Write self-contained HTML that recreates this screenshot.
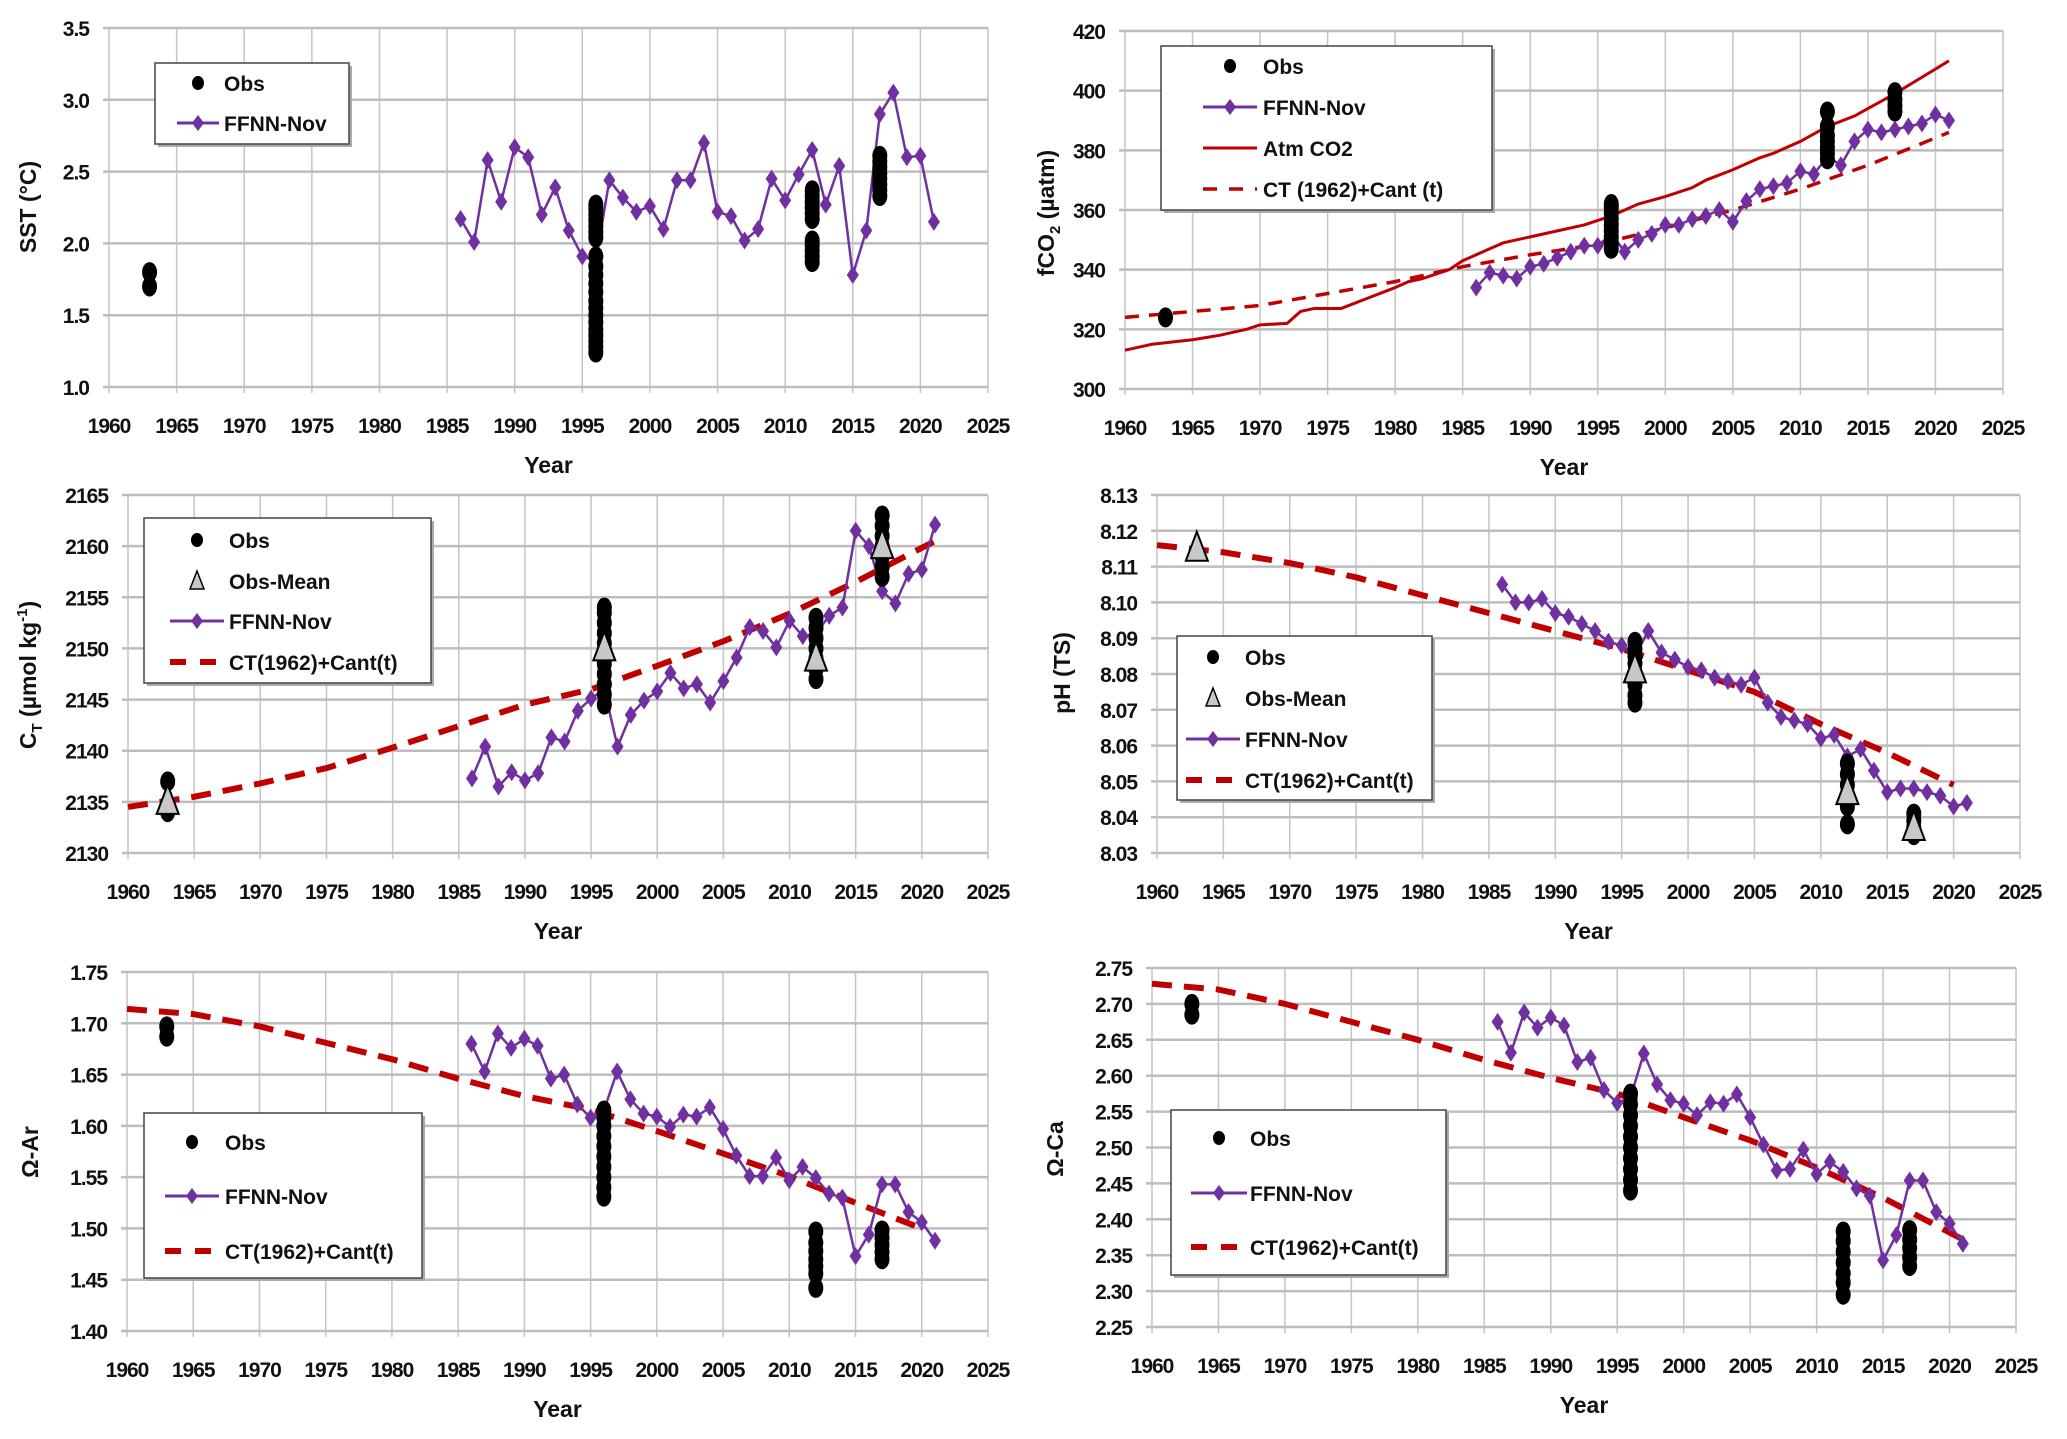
<!DOCTYPE html>
<html><head><meta charset="utf-8"><title>Ocean carbon panels</title>
<style>
body{margin:0;background:#fff;}
svg{display:block;font-family:"Liberation Sans",sans-serif;}
.tick{font-size:21px;font-weight:bold;fill:#111;letter-spacing:-1px;}
.atitle{font-size:23px;font-weight:bold;fill:#111;}
.leg{font-size:21px;font-weight:bold;fill:#111;}
</style></head>
<body>
<svg id="fig" width="2067" height="1439" viewBox="0 0 2067 1439"></svg>
<script>
// ---------- DATA ----------
const ffnnYears = [1986,1987,1988,1989,1990,1991,1992,1993,1994,1995,1996,1997,1998,1999,2000,2001,2002,2003,2004,2005,2006,2007,2008,2009,2010,2011,2012,2013,2014,2015,2016,2017,2018,2019,2020,2021];
const xTicks = [1960,1965,1970,1975,1980,1985,1990,1995,2000,2005,2010,2015,2020,2025];

// SST
const sstFfnn = [2.17,2.01,2.58,2.29,2.67,2.60,2.20,2.39,2.09,1.91,1.88,2.44,2.32,2.22,2.26,2.10,2.44,2.44,2.70,2.22,2.19,2.02,2.10,2.45,2.30,2.48,2.65,2.27,2.54,1.78,2.09,2.90,3.05,2.60,2.61,2.15];
const sstObsYears = [1963,1963,1996,1996,1996,1996,1996,1996,1996,1996,1996,1996,1996,1996,1996,1996,1996,1996,1996,1996,1996,1996,1996,2012,2012,2012,2012,2012,2012,2012,2012,2012,2012,2012,2017,2017,2017,2017,2017,2017,2017,2017];
const sstObsVals  = [1.70,1.80,1.24,1.28,1.32,1.36,1.40,1.45,1.50,1.55,1.60,1.66,1.72,1.78,1.84,1.91,2.04,2.08,2.12,2.16,2.20,2.24,2.27,1.87,1.91,1.95,1.99,2.02,2.17,2.21,2.25,2.29,2.33,2.37,2.33,2.37,2.41,2.45,2.49,2.53,2.57,2.61];
const sstTicks = [1.0,1.5,2.0,2.5,3.0,3.5];

// fCO2
const fco2Ffnn = [334,339,338,337,341,342,344,346,348,348,352,346,350,352,355,355,357,358,360,356,363,367,368,369,373,372,378,375,383,387,386,387,388,389,392,390];
const atmYears = [1960,1962,1965,1967,1969,1970,1972,1973,1974,1976,1978,1980,1981,1982,1984,1985,1987,1988,1990,1992,1994,1996,1998,2000,2002,2003,2005,2007,2008,2010,2012,2014,2015,2017,2019,2021];
const atmVals  = [313,315,316.5,318,320,321.5,322,326,327,327,330.5,334,336,337,340,343,347,349,351,353,355,358,362,364.5,367.5,370,373.5,377.5,379,383,388,391.5,394,399,404.5,410];
const fco2CtYears = [1960,1965,1970,1975,1980,1985,1990,1995,2000,2005,2010,2015,2021];
const fco2CtVals  = [324,326,328,332,336,341,345,348.5,354,360,367,375,386];
const fco2ObsYears = [1963,1996,1996,1996,1996,1996,1996,1996,1996,1996,2012,2012,2012,2012,2012,2012,2012,2017,2017,2017,2017];
const fco2ObsVals  = [324,347,349,351,353,355,357,359,361,362,377,379,381,383,385,388,393,393,395,397,399.5];
const fco2Ticks = [300,320,340,360,380,400,420];

// CT
const ctFfnn = [2137.3,2140.4,2136.5,2137.9,2137.1,2137.8,2141.3,2140.9,2143.9,2145.1,2146.0,2140.4,2143.5,2144.9,2145.8,2147.6,2146.1,2146.5,2144.7,2146.8,2149.1,2152.1,2151.7,2150.1,2152.7,2151.2,2151.5,2153.2,2154.0,2161.5,2160.0,2155.6,2154.4,2157.3,2157.7,2162.1];
const ctCtYears = [1960,1965,1970,1975,1980,1985,1990,1995,2000,2005,2010,2015,2021];
const ctCtVals  = [2134.5,2135.5,2136.8,2138.3,2140.3,2142.4,2144.5,2146.0,2148.3,2150.7,2153.4,2156.5,2160.5];
const ctObsYears = [1963,1963,1996,1996,1996,1996,1996,1996,1996,1996,1996,1996,1996,2012,2012,2012,2012,2012,2012,2012,2017,2017,2017,2017,2017,2017,2017];
const ctObsVals  = [2134,2137,2144.5,2145.5,2146.5,2147.5,2148.5,2149.5,2150.5,2151.5,2152.5,2153.5,2154,2147,2148,2149,2150,2151,2152,2153,2157,2158,2159,2160,2161,2162,2163];
const ctMeanYears = [1963,1996,2012,2017];
const ctMeanVals  = [2135,2150,2149,2160];
const ctTicks = [2130,2135,2140,2145,2150,2155,2160,2165];

// pH
const phFfnn = [8.105,8.100,8.100,8.101,8.097,8.096,8.094,8.092,8.089,8.088,8.085,8.092,8.086,8.084,8.082,8.081,8.079,8.078,8.077,8.079,8.072,8.068,8.067,8.066,8.062,8.063,8.057,8.059,8.053,8.047,8.048,8.048,8.047,8.046,8.043,8.044];
const phCtYears = [1960,1965,1970,1975,1980,1985,1990,1995,2000,2005,2010,2015,2020];
const phCtVals  = [8.116,8.114,8.111,8.107,8.102,8.097,8.092,8.087,8.081,8.075,8.066,8.058,8.049];
const phObsYears = [1996,1996,1996,1996,1996,1996,1996,1996,2012,2012,2012,2012,2012,2012,2017,2017,2017,2017];
const phObsVals  = [8.072,8.074,8.077,8.080,8.083,8.085,8.087,8.089,8.038,8.043,8.046,8.049,8.052,8.055,8.035,8.037,8.039,8.041];
const phMeanYears = [1963,1996,2012,2017];
const phMeanVals  = [8.115,8.081,8.047,8.037];
const phTicks = [8.03,8.04,8.05,8.06,8.07,8.08,8.09,8.10,8.11,8.12,8.13];

// Omega Ar
const arFfnn = [1.680,1.653,1.690,1.676,1.685,1.678,1.646,1.650,1.621,1.608,1.615,1.653,1.626,1.612,1.609,1.599,1.611,1.609,1.618,1.597,1.571,1.551,1.551,1.569,1.547,1.560,1.549,1.534,1.530,1.473,1.494,1.543,1.543,1.516,1.506,1.488];
const arCtYears = [1960,1965,1970,1975,1980,1985,1990,1995,2000,2005,2010,2015,2020];
const arCtVals  = [1.714,1.709,1.697,1.681,1.665,1.646,1.629,1.616,1.595,1.573,1.551,1.525,1.500];
const arObsYears = [1963,1963,1996,1996,1996,1996,1996,1996,1996,1996,1996,1996,2012,2012,2012,2012,2012,2012,2012,2017,2017,2017,2017,2017];
const arObsVals  = [1.687,1.697,1.531,1.540,1.550,1.560,1.570,1.580,1.590,1.600,1.608,1.615,1.442,1.456,1.463,1.470,1.478,1.486,1.497,1.470,1.477,1.484,1.491,1.498];
const arTicks = [1.40,1.45,1.50,1.55,1.60,1.65,1.70,1.75];

// Omega Ca
const caFfnn = [2.675,2.632,2.688,2.667,2.681,2.670,2.619,2.625,2.580,2.562,2.570,2.631,2.588,2.566,2.561,2.545,2.563,2.561,2.574,2.542,2.504,2.468,2.470,2.497,2.463,2.480,2.466,2.443,2.433,2.343,2.378,2.454,2.454,2.410,2.394,2.366];
const caCtYears = [1960,1965,1970,1975,1980,1985,1990,1995,2000,2005,2010,2015,2021];
const caCtVals  = [2.728,2.720,2.700,2.675,2.650,2.622,2.597,2.575,2.542,2.510,2.472,2.430,2.372];
const caObsYears = [1963,1963,1996,1996,1996,1996,1996,1996,1996,1996,1996,1996,2012,2012,2012,2012,2012,2012,2012,2017,2017,2017,2017,2017];
const caObsVals  = [2.685,2.700,2.440,2.455,2.470,2.485,2.500,2.515,2.530,2.545,2.560,2.575,2.295,2.312,2.325,2.340,2.355,2.370,2.383,2.335,2.347,2.360,2.372,2.385];
const caTicks = [2.25,2.30,2.35,2.40,2.45,2.50,2.55,2.60,2.65,2.70,2.75];

// ---------- RENDER ----------
const NS = "http://www.w3.org/2000/svg";
const svg = document.getElementById('fig');
const PURPLE = "#7030a0", RED = "#c00000";
function mk(tag, attrs, parent){
  const e = document.createElementNS(NS, tag);
  for (const k in attrs) e.setAttribute(k, attrs[k]);
  (parent||svg).appendChild(e);
  return e;
}
function panel(cfg){
  const g = mk('g', {});
  
  
  const x = v => cfg.x0 + (v - 1960) / 65 * (cfg.x1 - cfg.x0);
  const y = v => cfg.yb + (v - cfg.ymin) / (cfg.ymax - cfg.ymin) * (cfg.yt - cfg.yb);
  xTicks.forEach(t => {
    const l = mk('line', {x1:x(t), x2:x(t), y1:cfg.yt, y2:cfg.yb+6, stroke:'#c4c4c4', 'stroke-width':1.5}, g);
    
    
    const tx = mk('text', {x:x(t), y:cfg.yb+46, 'text-anchor':'middle', class:'tick'}, g);
    
    
    tx.textContent = t;
  });
  cfg.ticks.forEach(t => {
    const l = mk('line', {x1:cfg.x0-6, x2:cfg.x1, y1:y(t), y2:y(t), stroke:'#bdbdbd', 'stroke-width':2.5}, g);
    
    
    const tx = mk('text', {x:cfg.x0-20, y:y(t)+8, 'text-anchor':'end', class:'tick'}, g);
    
    
    tx.textContent = t.toFixed(cfg.dec);
  });
  const xt = mk('text', {x:(cfg.x0+cfg.x1)/2, y:cfg.yb+86, 'text-anchor':'middle', class:'atitle'}, g);
  
  
  xt.textContent = 'Year';
  const yt = mk('text', {x:0, y:0, 'text-anchor':'middle', class:'atitle', transform:`translate(${cfg.ytx},${cfg.yty}) rotate(-90)`}, g);
  
  
  yt.innerHTML = cfg.ytitle;
  if (cfg.ctY){
    const p = mk('polyline', {points: cfg.ctY.map((yr,i)=>x(yr)+','+y(cfg.ctV[i])).join(' '), fill:'none', stroke:RED, 'stroke-width':cfg.dashW||6, 'stroke-dasharray':cfg.dash||'20 12'}, g);
    
    
  }
  if (cfg.atmY){
    const p = mk('polyline', {points: cfg.atmY.map((yr,i)=>x(yr)+','+y(cfg.atmV[i])).join(' '), fill:'none', stroke:RED, 'stroke-width':3}, g);
    
    
  }
  const fl = mk('polyline', {points: ffnnYears.map((yr,i)=>x(yr)+','+y(cfg.ffnn[i])).join(' '), fill:'none', stroke:PURPLE, 'stroke-width':2.5}, g);
  
  
  ffnnYears.forEach((yr,i) => {
    const cx = x(yr), cy = y(cfg.ffnn[i]);
    const d = mk('polygon', {points:`${cx},${cy-9} ${cx+6},${cy} ${cx},${cy+9} ${cx-6},${cy}`, fill:PURPLE}, g);
    
    
  });
  cfg.obsY.forEach((yr,i) => {
    const c = mk('ellipse', {cx:x(yr), cy:y(cfg.obsV[i]), rx:7.5, ry:10, fill:'#000'}, g);
    
    
  });
  if (cfg.meanY){
    cfg.meanY.forEach((yr,i) => {
      const cx = x(yr), cy = y(cfg.meanV[i]);
      const t = mk('polygon', {points:`${cx},${cy-17} ${cx+11},${cy+12} ${cx-11},${cy+12}`, fill:'#c8c8c8', stroke:'#000', 'stroke-width':2}, g);
      
      
    });
  }
  const L = cfg.leg;
  const lg = mk('g', {}, g);
  
  
  mk('rect', {x:L.x+3, y:L.y+3, width:L.w, height:L.h, fill:'#aaa'}, lg);
  mk('rect', {x:L.x, y:L.y, width:L.w, height:L.h, fill:'#fff', stroke:'#444', 'stroke-width':1.5}, lg);
  L.items.forEach((it,i) => {
    const cy = L.ys[i];
    const e = mk('g', {}, lg);
    
    
    const a = L.x + L.l1, b = L.x + L.l2, m = (a+b)/2;
    if (it.k==='obs') mk('ellipse', {cx:m, cy:cy, rx:6, ry:7, fill:'#000'}, e);
    if (it.k==='mean') mk('polygon', {points:`${m},${cy-10} ${m+7},${cy+8} ${m-7},${cy+8}`, fill:'#c8c8c8', stroke:'#000', 'stroke-width':1.5}, e);
    if (it.k==='ffnn'){ mk('line', {x1:a, x2:b, y1:cy, y2:cy, stroke:PURPLE, 'stroke-width':3}, e);
      mk('polygon', {points:`${m},${cy-8} ${m+6},${cy} ${m},${cy+8} ${m-6},${cy}`, fill:PURPLE}, e); }
    if (it.k==='atm') mk('line', {x1:a, x2:b, y1:cy, y2:cy, stroke:RED, 'stroke-width':3}, e);
    if (it.k==='ct') mk('line', {x1:a, x2:b, y1:cy, y2:cy, stroke:RED, 'stroke-width':it.w||6, 'stroke-dasharray':it.d||'16 14'}, e);
    const t = mk('text', {x:L.x+L.tx, y:cy+8, class:'leg'}, e);
    t.textContent = it.t;
  });
}

const itObs={k:'obs',t:'Obs'}, itMean={k:'mean',t:'Obs-Mean'}, itF={k:'ffnn',t:'FFNN-Nov'}, itCt={k:'ct',t:'CT(1962)+Cant(t)'};
panel({name:'sst', x0:109,x1:988,yt:28,yb:387,ymin:1.0,ymax:3.5,ticks:sstTicks,dec:1,
  ytitle:'SST (°C)', ytx:36, yty:207, ffnn:sstFfnn, obsY:sstObsYears, obsV:sstObsVals,
  leg:{x:155,y:63,w:194,h:81,l1:22,l2:64,tx:69,ys:[83,123],items:[itObs,itF]}});
panel({name:'fco2', x0:1125,x1:2003,yt:31,yb:389,ymin:300,ymax:420,ticks:fco2Ticks,dec:0,
  ytitle:'fCO<tspan font-size="15" dy="6">2</tspan><tspan dy="-6"> (µatm)</tspan>', ytx:1054, yty:213,
  ffnn:fco2Ffnn, obsY:fco2ObsYears, obsV:fco2ObsVals, ctY:fco2CtYears, ctV:fco2CtVals, atmY:atmYears, atmV:atmVals, dashW:3.5, dash:'14 10',
  leg:{x:1161,y:46,w:331,h:164,l1:42,l2:96,tx:102,ys:[66,107,148,189],items:[itObs,itF,{k:'atm',t:'Atm CO2'},{k:'ct',t:'CT (1962)+Cant (t)',w:3.5,d:'14 12'}]}});
panel({name:'ct', x0:128,x1:988,yt:495,yb:853,ymin:2130,ymax:2165,ticks:ctTicks,dec:0,
  ytitle:'C<tspan font-size="15" dy="6">T</tspan><tspan dy="-6"> (µmol kg</tspan><tspan font-size="15" dy="-9">-1</tspan><tspan dy="9">)</tspan>', ytx:36, yty:675,
  ffnn:ctFfnn, obsY:ctObsYears, obsV:ctObsVals, ctY:ctCtYears, ctV:ctCtVals, meanY:ctMeanYears, meanV:ctMeanVals,
  leg:{x:144,y:518,w:287,h:165,l1:26,l2:80,tx:85,ys:[540,581,621,662],items:[itObs,itMean,itF,itCt]}});
panel({name:'ph', x0:1157,x1:2020,yt:495,yb:853,ymin:8.03,ymax:8.13,ticks:phTicks,dec:2,
  ytitle:'pH (TS)', ytx:1070, yty:673,
  ffnn:phFfnn, obsY:phObsYears, obsV:phObsVals, ctY:phCtYears, ctV:phCtVals, meanY:phMeanYears, meanV:phMeanVals,
  leg:{x:1177,y:636,w:255,h:164,l1:9,l2:63,tx:68,ys:[657,698,739,780],items:[itObs,itMean,itF,itCt]}});
panel({name:'omega-ar', x0:127,x1:988,yt:972,yb:1331,ymin:1.40,ymax:1.75,ticks:arTicks,dec:2,
  ytitle:'Ω-Ar', ytx:38, yty:1152,
  ffnn:arFfnn, obsY:arObsYears, obsV:arObsVals, ctY:arCtYears, ctV:arCtVals,
  leg:{x:144,y:1113,w:278,h:165,l1:21,l2:75,tx:81,ys:[1142,1196,1251],items:[itObs,itF,itCt]}});
panel({name:'omega-ca', x0:1152,x1:2016,yt:968,yb:1327,ymin:2.25,ymax:2.75,ticks:caTicks,dec:2,
  ytitle:'Ω-Ca', ytx:1063, yty:1149,
  ffnn:caFfnn, obsY:caObsYears, obsV:caObsVals, ctY:caCtYears, ctV:caCtVals,
  leg:{x:1171,y:1110,w:275,h:165,l1:20,l2:76,tx:79,ys:[1138,1193,1247],items:[itObs,itF,itCt]}});
</script>
</body></html>
